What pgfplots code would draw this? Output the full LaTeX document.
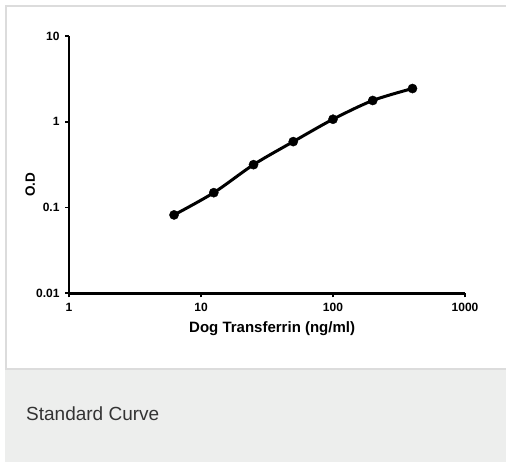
\documentclass[border=0pt]{standalone}
\usepackage{fontspec}
\setmainfont{Liberation Sans}
\usepackage{pgfplots}
\pgfplotsset{compat=1.18}
\definecolor{bordergray}{HTML}{DCDCDC}
\definecolor{capgray}{HTML}{EDEEED}
\definecolor{captext}{HTML}{333333}
\begin{document}
\begin{tikzpicture}[x=1pt,y=1pt]
\useasboundingbox (0,0) rectangle (506,462);
\clip (0,0) rectangle (506,462);
\fill[white] (0,0) rectangle (506,462);
\fill[capgray] (5,0) rectangle (510,92.5);
\draw[bordergray, line width=2pt] (6,93) rectangle (512,456);
\node[anchor=base west, font=\fontsize{19}{23}\selectfont, text=captext, inner sep=0pt] at (26,41) {Standard Curve};
\begin{axis}[
  at={(69pt,168.7pt)}, anchor=south west,
  scale only axis, width=396pt, height=257.3pt,
  xmode=log, ymode=log,
  xmin=1, xmax=1000, ymin=0.01, ymax=10,
  axis x line*=bottom, axis y line*=left,
  axis line style={line width=2.8pt, black},
  tick style={line width=1.6pt, black},
  tick align=outside, major tick length=4pt, minor tick length=0pt,
  xminorticks=false, yminorticks=false,
  xtick={1,10,100,1000}, xticklabels={1,10,100,1000},
  ytick={0.01,0.1,1,10}, yticklabels={0.01,0.1,1,10},
  xticklabel style={font=\bfseries\fontsize{12}{14}\selectfont, yshift=-2pt},
  yticklabel style={font=\bfseries\fontsize{12}{14}\selectfont, xshift=-2pt},
  /pgf/number format/assume math mode=true,
  xlabel={Dog Transferrin (ng/ml)},
  xlabel style={font=\bfseries\fontsize{15}{18}\selectfont, at={(axis description cs:0.513,-0.154)}, anchor=base},
  ylabel={O.D},
  ylabel style={font=\bfseries\fontsize{13.5}{16}\selectfont, at={(axis description cs:-0.098,0.421)}, anchor=center},
  clip=false,
]
\addplot[black, line width=3pt, smooth, mark=*, mark size=4.6pt, mark options={solid, line width=0.4pt}]
  coordinates {(6.25,0.082) (12.5,0.149) (25,0.316) (50,0.587) (100,1.07) (200,1.77) (400,2.44)};
\end{axis}
\end{tikzpicture}
\end{document}
